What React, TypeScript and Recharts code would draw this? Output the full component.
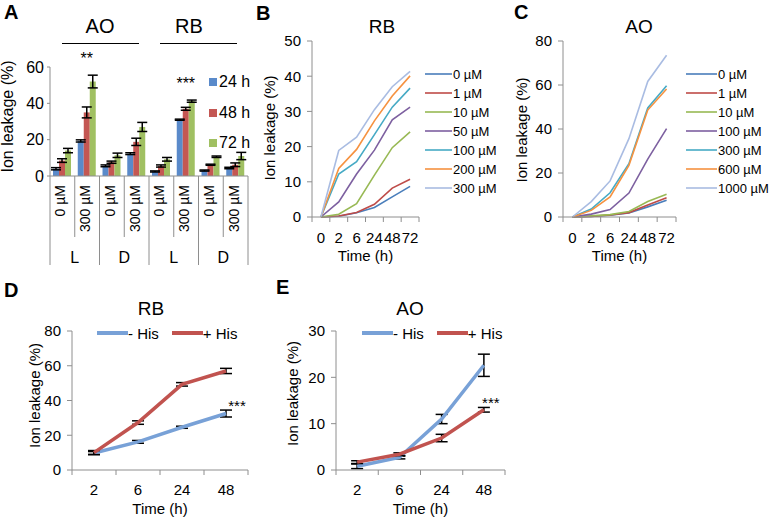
import React from "react"
import { BarChart, Bar, LineChart, Line, XAxis, YAxis, ErrorBar, Legend, LabelList } from "recharts"

const FONT = '"Liberation Sans", Arial, Helvetica, sans-serif'
const AXIS = "#8e8e8e"
const INK = "#000"

// ---- A: bars, 24/48/72 h ----
const aConc = ["0 µM", "300 µM", "0 µM", "300 µM", "0 µM", "300 µM", "0 µM", "300 µM"]
const aLight = ["L", "L", "D", "D", "L", "L", "D", "D"]
const a24 = [4.0, 19.3, 5.6, 12.3, 2.5, 31, 3.0, 4.4]
const a48 = [8.5, 35, 7.6, 18.8, 5.5, 37, 6.2, 6.2]
const a72 = [14, 52, 11.4, 27, 9.2, 41.2, 10.6, 11]
const a24Err = [0.6, 0.6, 0.5, 0.5, 0.3, 0.3, 0.3, 0.4]
const a48Err = [1, 3, 0.6, 2, 0.6, 0.8, 0.3, 1]
const a72Err = [1.2, 3.5, 1.2, 2.5, 1, 0.6, 0.4, 2]
const aSig = ["", "**", "", "", "", "***", "", ""]

// ---- B / C: dose series over time ----
const timesBC = ["0", "2", "6", "24", "48", "72"]
const rbNames = ["0 µM", "1 µM", "10 µM", "50 µM", "100 µM", "200 µM", "300 µM"]
const rb0 = [0, 0.2, 1.2, 2.7, 5.7, 8.7]
const rb1 = [0, 0.3, 1.3, 3.6, 8.2, 10.7]
const rb10 = [0, 0.8, 3.8, 11.9, 19.7, 24.2]
const rb50 = [0, 4.3, 12.2, 19, 27.6, 31.2]
const rb100 = [0, 12.2, 15.7, 23.4, 31.2, 36.6]
const rb200 = [0, 13.8, 19.2, 27.3, 34.4, 40.1]
const rb300 = [0, 18.9, 22.7, 30.5, 37, 41.4]

const aoNames = ["0 µM", "1 µM", "10 µM", "100 µM", "300 µM", "600 µM", "1000 µM"]
const ao0 = [0, 0.3, 0.8, 1.8, 4.6, 7.6]
const ao1 = [0, 0.3, 0.9, 2, 5.5, 8.8]
const ao10 = [0, 0.5, 1.1, 2.5, 7, 10.3]
const ao100 = [0, 1.3, 3.4, 10.9, 26.3, 40.2]
const ao300 = [0, 3.6, 11, 24.2, 49.6, 59.7]
const ao600 = [0, 3, 9.1, 23.5, 48.6, 58.2]
const ao1000 = [0, 7, 16.4, 35.6, 61.6, 73.5]

const doseColors = ["#4A7EBB", "#BE4B48", "#98B954", "#7D60A0", "#46AAC5", "#F69240", "#A9BCE2"]

// ---- D / E: +/- His ----
const hisTimes = ["2", "6", "24", "48"]
const rbMinus = [9.8, 16.2, 24.6, 32.5]
const rbMinusErr = [0.8, 0.8, 0.6, 2]
const rbPlus = [10, 27.3, 49.3, 57]
const rbPlusErr = [1.2, 1, 1, 1.5]
const rbHisSig = ["", "", "", "***"]

const aoMinus = [0.8, 2.7, 11, 22.6]
const aoMinusErr = [0.5, 0.3, 1, 2.4]
const aoPlus = [1.7, 3.4, 6.9, 13]
const aoPlusErr = [0.3, 0.3, 0.8, 0.5]
const aoHisSig = ["", "", "", "***"]

const hisBlue = "#78A1D7"
const hisRed = "#C1534F"

const aData = aConc.map((c, i) => ({
  key: `c${i}`,
  h24: a24[i], h48: a48[i], h72: a72[i],
  e24: a24Err[i], e48: a48Err[i], e72: a72Err[i],
  sig: aSig[i],
}))

const rbSeries = [rb0, rb1, rb10, rb50, rb100, rb200, rb300]
const aoSeries = [ao0, ao1, ao10, ao100, ao300, ao600, ao1000]
const rbData = timesBC.map((t, i) => {
  const row: any = { t }
  rbSeries.forEach((s, k) => { row[`s${k}`] = s[i] })
  return row
})
const aoData = timesBC.map((t, i) => {
  const row: any = { t }
  aoSeries.forEach((s, k) => { row[`s${k}`] = s[i] })
  return row
})

const rbHisData = hisTimes.map((t, i) => ({
  t, minus: rbMinus[i], minusErr: rbMinusErr[i], plus: rbPlus[i], plusErr: rbPlusErr[i], sig: rbHisSig[i],
}))
const aoHisData = hisTimes.map((t, i) => ({
  t, minus: aoMinus[i], minusErr: aoMinusErr[i], plus: aoPlus[i], plusErr: aoPlusErr[i], sig: aoHisSig[i],
}))

// x tick with Excel-style marks between categories
function BandTick(props: any) {
  const { x, y, payload, index, visibleTicksCount, band, drop = 26, size = 15 } = props
  const half = payload?.offset || band / 2
  const last = index === visibleTicksCount - 1
  return (
    <g>
      <line x1={x - half} x2={x - half} y1={y} y2={y + 5} stroke={AXIS} />
      {last && <line x1={x + half} x2={x + half} y1={y} y2={y + 5} stroke={AXIS} />}
      <text x={x} y={y + drop} textAnchor="middle" fontSize={size} fill={INK}>{payload.value}</text>
    </g>
  )
}

// two-level category axis for panel A
function GroupTick(props: any) {
  const { x, y, payload, index, band } = props
  const half = payload?.offset || band / 2
  const first = index % 2 === 0
  const last = index === aConc.length - 1
  return (
    <g>
      <line x1={x - half} x2={x - half} y1={y} y2={y + (first ? 89 : 61)} stroke={AXIS} />
      {last && <line x1={x + half} x2={x + half} y1={y} y2={y + 89} stroke={AXIS} />}
      <text transform={`translate(${x + 3},${y + 9}) rotate(-90)`} textAnchor="end" fontSize={14} fill={INK}>
        {aConc[index]}
      </text>
      {first && (
        <text x={x + half} y={y + 87} textAnchor="middle" fontSize={16} fill={INK}>{aLight[index]}</text>
      )}
    </g>
  )
}

const yTitle = (text: string, baseX: number, dy: number, size = 15) => (props: any) => {
  const vb = props.viewBox || {}
  const cy = vb.y + vb.height / 2 + dy
  return (
    <text transform={`translate(${vb.x + baseX},${cy}) rotate(-90)`} textAnchor="middle" fontSize={size} fill={INK}>
      {text}
    </text>
  )
}

const xTitle = (text: string, drop: number, size = 15) => (props: any) => {
  const vb = props.viewBox || {}
  return (
    <text x={vb.x + vb.width / 2} y={vb.y + drop} textAnchor="middle" fontSize={size} fill={INK}>{text}</text>
  )
}

function SigOverBar(props: any) {
  const { value, index } = props
  if (!value) return null
  const vb = props.viewBox || props
  const perUnit = vb.height / a72[index]
  const errTop = vb.y - a72Err[index] * perUnit
  return (
    <text x={vb.x - vb.width / 2} y={errTop - 11} textAnchor="middle" fontSize={16} fill={INK}>{value}</text>
  )
}

function SigNearPoint(props: any) {
  const { value, dx = 10, dy = -3 } = props
  if (!value) return null
  const px = props.x ?? props.viewBox?.x
  const py = props.y ?? props.viewBox?.y
  return <text x={px + dx} y={py + dy} textAnchor="middle" fontSize={15} fill={INK}>{value}</text>
}

function BoxLegend({ payload }: any) {
  return (
    <div style={{ fontSize: 16 }}>
      {(payload || []).map((p: any) => (
        <div key={p.value} style={{ display: "flex", alignItems: "center", height: 30.5, whiteSpace: "nowrap" }}>
          <span style={{ display: "inline-block", width: 8, height: 8, background: p.color, marginRight: 2 }} />
          <span>{p.value}</span>
        </div>
      ))}
    </div>
  )
}

function StackLegend({ payload, swatch, row }: any) {
  return (
    <div style={{ fontSize: 13 }}>
      {(payload || []).map((p: any) => (
        <div key={p.value} style={{ display: "flex", alignItems: "center", height: row, whiteSpace: "nowrap" }}>
          <svg width={swatch} height={4} style={{ marginRight: 1 }}>
            <line x1={0} x2={swatch} y1={2} y2={2} stroke={p.color} strokeWidth={1.6} />
          </svg>
          <span>{p.value}</span>
        </div>
      ))}
    </div>
  )
}

function RowLegend({ payload }: any) {
  return (
    <div style={{ display: "flex", alignItems: "center", fontSize: 15, whiteSpace: "nowrap", height: 18 }}>
      {(payload || []).map((p: any) => (
        <div key={p.value} style={{ display: "flex", alignItems: "center", marginRight: 13 }}>
          <svg width={31} height={6}>
            <line x1={0} x2={31} y1={3} y2={3} stroke={p.color} strokeWidth={4} />
          </svg>
          <span>{p.value}</span>
        </div>
      ))}
    </div>
  )
}

const yTick = (size: number) => ({ fill: INK, fontSize: size })

function PanelA() {
  return (
    <div style={{ position: "absolute", left: 0, top: 0 }}>
      <BarChart width={260} height={290} data={aData} margin={{ top: 67, right: 12, bottom: 0, left: 0 }} barGap={0} barSize={6}>
        <XAxis dataKey="key" height={114} interval={0} tickSize={0} tickMargin={0} stroke={AXIS}
          tick={<GroupTick band={198 / 8} />} />
        <YAxis width={50} domain={[0, 60]} ticks={[0, 20, 40, 60]} stroke={AXIS} tickSize={3} tickMargin={3}
          tick={yTick(16)} label={{ content: yTitle("Ion leakage (%)", 12.5, -5, 16) }} />
        <Legend layout="horizontal" verticalAlign="middle" itemSorter="dataKey" content={<BoxLegend />}
          wrapperStyle={{ left: 209, top: 67, width: 50 }} />
        <Bar dataKey="h24" name="24 h" fill="#5A8ACA" isAnimationActive={false}>
          <ErrorBar dataKey="e24" direction="y" width={5} stroke={INK} />
        </Bar>
        <Bar dataKey="h48" name="48 h" fill="#C45753" isAnimationActive={false}>
          <ErrorBar dataKey="e48" direction="y" width={5} stroke={INK} />
        </Bar>
        <Bar dataKey="h72" name="72 h" fill="#A0C062" isAnimationActive={false}>
          <ErrorBar dataKey="e72" direction="y" width={5} stroke={INK} />
          <LabelList dataKey="sig" content={<SigOverBar />} />
        </Bar>
      </BarChart>
    </div>
  )
}

function DosePanel({ left, width, data, names, max, step, plotLeft, right, legendLeft, swatch, yBase, yDy }: any) {
  const ticks: number[] = []
  for (let v = 0; v <= max; v += step) ticks.push(v)
  const plotW = width - plotLeft - right
  return (
    <div style={{ position: "absolute", left, top: 0 }}>
      <LineChart width={width} height={290} data={data} margin={{ top: 41, right, bottom: 0, left: 0 }}>
        <XAxis dataKey="t" scale="band" height={73} interval={0} tickSize={0} tickMargin={0} stroke={AXIS}
          tick={<BandTick band={plotW / 6} drop={26} />} label={{ content: xTitle("Time (h)", 44) }} />
        <YAxis width={plotLeft} domain={[0, max]} ticks={ticks} stroke={AXIS} tickSize={5} tickMargin={6}
          tick={yTick(15)} label={{ content: yTitle("Ion leakage (%)", yBase, yDy) }} />
        <Legend layout="horizontal" verticalAlign="middle" itemSorter="dataKey"
          content={<StackLegend swatch={swatch} row={19} />}
          wrapperStyle={{ left: legendLeft, top: 64.5, width: 90 }} />
        {names.map((n: string, k: number) => (
          <Line key={n} dataKey={`s${k}`} name={n} stroke={doseColors[k]} strokeWidth={1.6} dot={false}
            isAnimationActive={false} />
        ))}
      </LineChart>
    </div>
  )
}

function HisPanel({ left, data, max, step, plotLeft, right, legendLeft, yBase, yDy, sigDx, sigDy, sigOn }: any) {
  const ticks: number[] = []
  for (let v = 0; v <= max; v += step) ticks.push(v)
  const plotW = 260 - plotLeft - right
  return (
    <div style={{ position: "absolute", left, top: 290 }}>
      <LineChart width={260} height={230} data={data} margin={{ top: 41, right, bottom: 0, left: 0 }}>
        <XAxis dataKey="t" scale="band" height={50} interval={0} tickSize={0} tickMargin={0} stroke={AXIS}
          tick={<BandTick band={plotW / 4} drop={25} />} label={{ content: xTitle("Time (h)", 44) }} />
        <YAxis width={plotLeft} domain={[0, max]} ticks={ticks} stroke={AXIS} tickSize={5} tickMargin={6}
          tick={yTick(15)} label={{ content: yTitle("Ion leakage (%)", yBase, yDy) }} />
        <Legend layout="horizontal" verticalAlign="middle" itemSorter="dataKey" content={<RowLegend />}
          wrapperStyle={{ left: legendLeft, top: 34, width: 160 }} />
        <Line dataKey="minus" name="- His" stroke={hisBlue} strokeWidth={3.5} dot={false} isAnimationActive={false}>
          <ErrorBar dataKey="minusErr" direction="y" width={6} stroke={INK} />
          {sigOn === "minus" && <LabelList dataKey="sig" content={<SigNearPoint dx={sigDx} dy={sigDy} />} />}
        </Line>
        <Line dataKey="plus" name="+ His" stroke={hisRed} strokeWidth={3.5} dot={false} isAnimationActive={false}>
          <ErrorBar dataKey="plusErr" direction="y" width={6} stroke={INK} />
          {sigOn === "plus" && <LabelList dataKey="sig" content={<SigNearPoint dx={sigDx} dy={sigDy} />} />}
        </Line>
      </LineChart>
    </div>
  )
}

function Headings() {
  const t = (s: string, x: number, y: number, size: number, bold = false, anchor = "middle") => (
    <text x={x} y={y} fontSize={size} fontWeight={bold ? "bold" : "normal"} textAnchor={anchor} fill={INK}>{s}</text>
  )
  return (
    <svg width={771} height={520} style={{ position: "absolute", left: 0, top: 0, pointerEvents: "none" }}>
      {t("A", 4, 19, 20, true, "start")}
      {t("AO", 100, 33, 20)}
      {t("RB", 189, 33, 20)}
      <line x1={62} x2={139} y1={43.5} y2={43.5} stroke={INK} />
      <line x1={160} x2={237} y1={43.5} y2={43.5} stroke={INK} />
      {t("B", 256, 20, 20, true, "start")}
      {t("RB", 382, 33, 19)}
      {t("C", 514, 19, 20, true, "start")}
      {t("AO", 639, 33, 19)}
      {t("D", 4, 297, 20, true, "start")}
      {t("RB", 151, 315, 19)}
      {t("E", 276, 294, 20, true, "start")}
      {t("AO", 410, 315, 19)}
    </svg>
  )
}

export default function App() {
  return (
    <div style={{ position: "absolute", left: 0, top: 0, width: 771, height: 520, background: "#fff", fontFamily: FONT, color: INK, overflow: "hidden" }}>
      <PanelA />
      <DosePanel left={240} width={260} data={rbData} names={rbNames} max={50} step={10} plotLeft={72} right={81}
        legendLeft={185} swatch={27} yBase={35} yDy={-1} />
      <DosePanel left={500} width={271} data={aoData} names={aoNames} max={80} step={20} plotLeft={63} right={95}
        legendLeft={186} swatch={31} yBase={27} yDy={1} />
      <HisPanel left={0} data={rbHisData} max={80} step={20} plotLeft={72} right={12} legendLeft={97}
        yBase={40} yDy={-5} sigDx={11} sigDy={-3} sigOn="minus" />
      <HisPanel left={260} data={aoHisData} max={30} step={10} plotLeft={76} right={15} legendLeft={102}
        yBase={38} yDy={-7} sigDx={7} sigDy={-2} sigOn="plus" />
      <Headings />
    </div>
  )
}
